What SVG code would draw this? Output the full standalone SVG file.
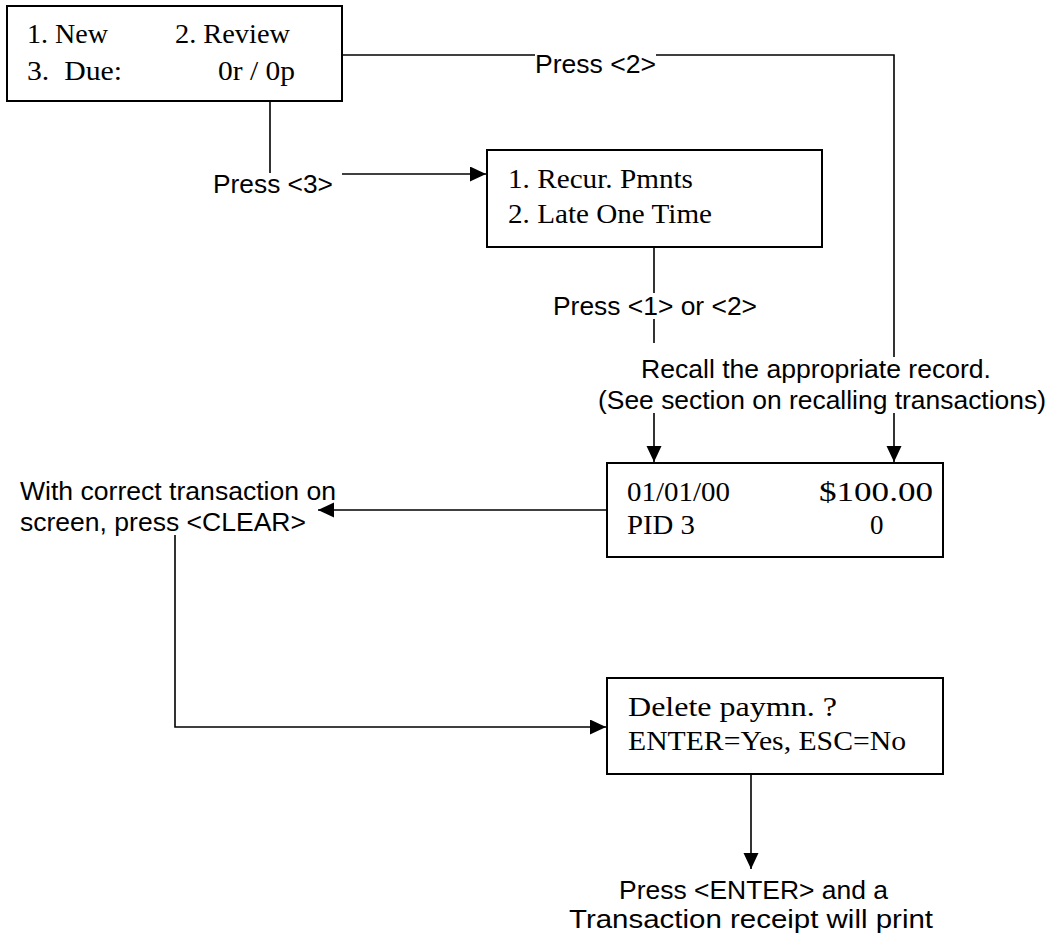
<svg xmlns="http://www.w3.org/2000/svg" width="1052" height="938" viewBox="0 0 1052 938">
<defs>
<style>
.box{fill:#fff;stroke:#000;stroke-width:2}
.ln{fill:none;stroke:#000;stroke-width:1.6}
.t{font-family:"Liberation Serif","Times New Roman",serif;font-size:27px;fill:#000}
.a{font-family:"Liberation Sans",Arial,sans-serif;font-size:25.5px;fill:#000}
</style>
<marker id="ah" markerUnits="userSpaceOnUse" markerWidth="18" markerHeight="16" refX="16" refY="7.5" orient="auto">
<path d="M0,0 L16,7.5 L0,15 Z" fill="#000"/>
</marker>
</defs>
<rect width="1052" height="938" fill="#fff"/>
<g id="connectors">
<path class="ln" d="M342,55 H535"/>
<path class="ln" d="M656,55 H894 V357"/>
<path class="ln" d="M894,413 V462" marker-end="url(#ah)"/>
<path class="ln" d="M270,101 V173"/>
<path class="ln" d="M342,174 H486" marker-end="url(#ah)"/>
<path class="ln" d="M654,247 V293"/>
<path class="ln" d="M654,319 V343"/>
<path class="ln" d="M654,413 V462" marker-end="url(#ah)"/>
<path class="ln" d="M607,510 H318" marker-end="url(#ah)"/>
<path class="ln" d="M175,535 V727 H606" marker-end="url(#ah)"/>
<path class="ln" d="M751,774 V869" marker-end="url(#ah)"/>
</g>
<g id="node-menu">
<rect class="box" x="7" y="6" width="335" height="95"/>
<text class="t" x="27" y="43" textLength="81" lengthAdjust="spacingAndGlyphs">1. New</text>
<text class="t" x="175" y="43" textLength="115" lengthAdjust="spacingAndGlyphs">2. Review</text>
<text class="t" x="27" y="80" textLength="95" lengthAdjust="spacingAndGlyphs" xml:space="preserve">3.  Due:</text>
<text class="t" x="218" y="80" textLength="77" lengthAdjust="spacingAndGlyphs">0r / 0p</text>
</g>
<g id="label-press2">
<text class="a" x="535" y="73" textLength="121" lengthAdjust="spacingAndGlyphs">Press &lt;2&gt;</text>
</g>
<g id="label-press3">
<text class="a" x="213" y="193" textLength="120" lengthAdjust="spacingAndGlyphs">Press &lt;3&gt;</text>
</g>
<g id="node-due">
<rect class="box" x="487" y="150" width="335" height="97"/>
<text class="t" x="508" y="188" textLength="185" lengthAdjust="spacingAndGlyphs">1. Recur. Pmnts</text>
<text class="t" x="508" y="223" textLength="204" lengthAdjust="spacingAndGlyphs">2. Late One Time</text>
</g>
<g id="label-press12">
<text class="a" x="553" y="315" textLength="204" lengthAdjust="spacingAndGlyphs">Press &lt;1&gt; or &lt;2&gt;</text>
</g>
<g id="label-recall">
<text class="a" x="641" y="378" textLength="350" lengthAdjust="spacingAndGlyphs">Recall the appropriate record.</text>
<text class="a" x="598" y="409" textLength="448" lengthAdjust="spacingAndGlyphs">(See section on recalling transactions)</text>
</g>
<g id="node-record">
<rect class="box" x="607" y="463" width="336" height="94"/>
<text class="t" x="627" y="501" textLength="103" lengthAdjust="spacingAndGlyphs">01/01/00</text>
<text class="t" x="819" y="501" textLength="114" lengthAdjust="spacingAndGlyphs">$100.00</text>
<text class="t" x="627" y="534" textLength="68" lengthAdjust="spacingAndGlyphs">PID 3</text>
<text class="t" x="870" y="534">0</text>
</g>
<g id="label-clear">
<text class="a" x="20" y="500" textLength="316" lengthAdjust="spacingAndGlyphs">With correct transaction on</text>
<text class="a" x="20" y="531" textLength="286" lengthAdjust="spacingAndGlyphs">screen, press &lt;CLEAR&gt;</text>
</g>
<g id="node-delete">
<rect class="box" x="607" y="678" width="336" height="96"/>
<text class="t" x="628" y="716" textLength="209" lengthAdjust="spacingAndGlyphs">Delete paymn. ?</text>
<text class="t" x="628" y="750" textLength="278" lengthAdjust="spacingAndGlyphs">ENTER=Yes, ESC=No</text>
</g>
<g id="label-enter">
<text class="a" x="619" y="899" textLength="269" lengthAdjust="spacingAndGlyphs">Press &lt;ENTER&gt; and a</text>
<text class="a" x="569" y="928" textLength="364" lengthAdjust="spacingAndGlyphs">Transaction receipt will print</text>
</g>
</svg>
